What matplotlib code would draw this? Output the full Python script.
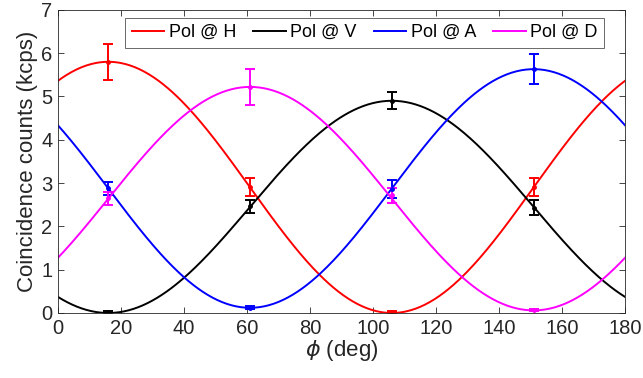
import numpy as np
import matplotlib
matplotlib.use("Agg")
import matplotlib.pyplot as plt

plt.rcParams['font.family'] = ['Liberation Sans', 'DejaVu Sans']
plt.rcParams['mathtext.fontset'] = 'dejavusans'

# measured points (deg, kcps) with error bars
phi_pts = [16, 61, 106, 151]
labels = ['Pol @ H', 'Pol @ V', 'Pol @ A', 'Pol @ D']
colors = ['#ff0000', '#000000', '#0000ff', '#ff00ff']

H_pts = [5.80, 2.91, 0.02, 2.91]
V_pts = [0.02, 2.46, 4.90, 2.43]
A_pts = [2.88, 0.12, 2.86, 5.63]
D_pts = [2.65, 5.22, 2.72, 0.07]

H_err = [0.42, 0.20, 0.03, 0.20]
V_err = [0.03, 0.16, 0.20, 0.17]
A_err = [0.15, 0.03, 0.20, 0.35]
D_err = [0.15, 0.42, 0.17, 0.03]

# fitted cos^2 curves: offset, amplitude, phase of the peak (deg)
H_fit = [0.0, 5.80, 16.0]
V_fit = [0.0, 4.90, 106.0]
A_fit = [0.12, 5.51, 151.0]
D_fit = [0.06, 5.16, 61.0]

pts = [H_pts, V_pts, A_pts, D_pts]
errs = [H_err, V_err, A_err, D_err]
fits = [H_fit, V_fit, A_fit, D_fit]

phi = np.linspace(0, 180, 361)

fig = plt.figure(figsize=(6.43, 3.78), dpi=100)
ax = fig.add_axes([0.090, 0.172, 0.882, 0.802])

for y, e, f, c, lab in zip(pts, errs, fits, colors, labels):
    c0, amp, p0 = f
    curve = c0 + amp * np.cos(np.radians(phi - p0))**2
    ax.plot(phi, curve, color=c, lw=1.4, label=lab)
    ax.errorbar(phi_pts, y, yerr=e, fmt='.', color=c, ms=5,
                capsize=3.5, elinewidth=1.4, capthick=1.4)

ax.set_xlim(0, 180)
ax.set_ylim(0, 7)
ax.set_xticks(np.arange(0, 181, 20))
ax.set_yticks(np.arange(0, 8, 1))
ax.tick_params(direction='in', top=True, right=True, labelsize=14.5,
               colors='#262626', length=4, width=0.6, pad=4)
for s in ax.spines.values():
    s.set_color('#262626')
    s.set_linewidth(0.6)
ax.set_xlabel(r'$\phi$ (deg)', fontsize=16, color='#262626', labelpad=0)
ax.set_ylabel('Coincidence counts (kcps)', fontsize=16, color='#262626', labelpad=2)

leg = ax.legend(loc='upper center', ncol=4, fontsize=13, frameon=True, fancybox=False,
                handlelength=1.8, handletextpad=0.25, columnspacing=0.95,
                borderpad=0.35, bbox_to_anchor=(0.541, 1.0), borderaxespad=0.45)
leg.get_frame().set_edgecolor('#262626')
leg.get_frame().set_linewidth(0.6)

fig.savefig('out.png', dpi=100)
